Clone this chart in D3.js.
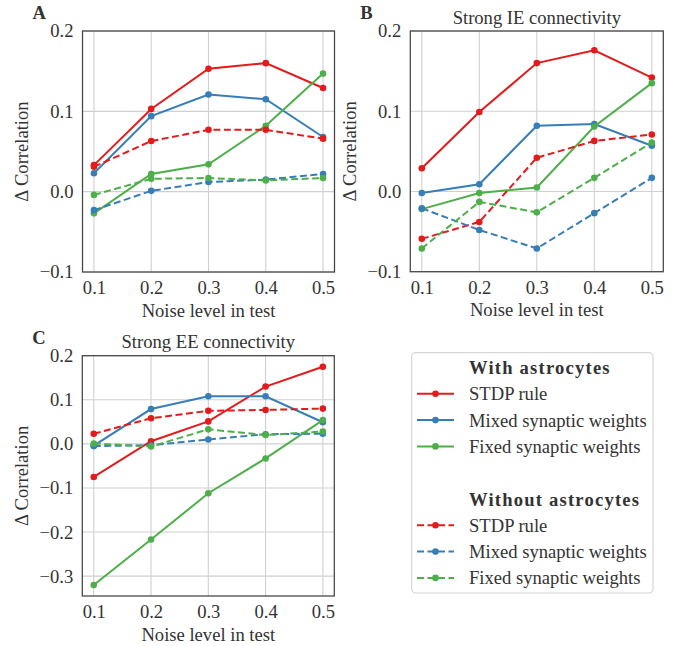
<!DOCTYPE html>
<html>
<head>
<meta charset="utf-8">
<script src="https://cdn.jsdelivr.net/npm/d3@7/dist/d3.min.js"></script>
<style>
  html, body { margin: 0; padding: 0; background: #fff; }
  svg { display: block; }
  text { font-family: "Liberation Serif", "DejaVu Serif", serif; fill: #333; }
</style>
</head>
<body>
<svg id="chart" width="674" height="646"></svg>
<script>
// ---------- data ----------
const noiseLevels = [0.1, 0.2, 0.3, 0.4, 0.5];
const xTicks = [0.1, 0.2, 0.3, 0.4, 0.5];
const yTicksAB = [-0.1, 0.0, 0.1, 0.2];
const yTicksC = [-0.3, -0.2, -0.1, 0.0, 0.1, 0.2];

const seriesNames = ["STDP rule", "Mixed synaptic weights", "Fixed synaptic weights"];
const seriesColors = ["#e41a1c", "#377eb8", "#4daf4a"];
const groupTitles = ["With astrocytes", "Without astrocytes"];

// Panel A (baseline)
const aStdpWith      = [0.033, 0.103, 0.153, 0.160, 0.129];
const aMixedWith     = [0.023, 0.094, 0.121, 0.115, 0.068];
const aFixedWith     = [-0.027, 0.022, 0.034, 0.082, 0.147];
const aStdpWithout   = [0.031, 0.063, 0.077, 0.077, 0.066];
const aMixedWithout  = [-0.023, 0.001, 0.012, 0.015, 0.022];
const aFixedWithout  = [-0.004, 0.016, 0.017, 0.014, 0.017];

// Panel B (strong IE connectivity)
const bStdpWith      = [0.029, 0.099, 0.160, 0.176, 0.142];
const bMixedWith     = [-0.002, 0.009, 0.082, 0.084, 0.057];
const bFixedWith     = [-0.022, -0.002, 0.005, 0.081, 0.135];
const bStdpWithout   = [-0.059, -0.038, 0.042, 0.063, 0.071];
const bMixedWithout  = [-0.021, -0.048, -0.071, -0.027, 0.017];
const bFixedWithout  = [-0.071, -0.013, -0.026, 0.017, 0.061];

// Panel C (strong EE connectivity)
const cStdpWith      = [-0.075, 0.006, 0.051, 0.130, 0.175];
const cMixedWith     = [-0.004, 0.079, 0.108, 0.108, 0.049];
const cFixedWith     = [-0.320, -0.217, -0.112, -0.033, 0.054];
const cStdpWithout   = [0.023, 0.058, 0.075, 0.077, 0.080];
const cMixedWithout  = [-0.005, -0.003, 0.010, 0.022, 0.023];
const cFixedWithout  = [0.001, -0.006, 0.033, 0.020, 0.028];

// ---------- layout ----------
const svg = d3.select("#chart");
svg.append("rect").attr("width", 674).attr("height", 646).attr("fill", "#fff");

const FS = 18.6;
const panels = [
  { letter: "A", title: null, box: [82.5, 334.5, 31, 272], ydom: [-0.1, 0.2], yticks: yTicksAB,
    withS: [aStdpWith, aMixedWith, aFixedWith], withoutS: [aStdpWithout, aMixedWithout, aFixedWithout] },
  { letter: "B", title: "Strong IE connectivity", box: [410.3, 663.3, 31, 271.7], ydom: [-0.1, 0.2], yticks: yTicksAB,
    withS: [bStdpWith, bMixedWith, bFixedWith], withoutS: [bStdpWithout, bMixedWithout, bFixedWithout] },
  { letter: "C", title: "Strong EE connectivity", box: [82.3, 334.3, 355.7, 596], ydom: [-0.345, 0.2], yticks: yTicksC,
    withS: [cStdpWith, cMixedWith, cFixedWith], withoutS: [cStdpWithout, cMixedWithout, cFixedWithout] }
];

const fmt = d3.format(".1f");

panels.forEach(p => {
  const [l, r, t, b] = p.box;
  const x = d3.scaleLinear().domain([0.08, 0.52]).range([l, r]);
  const y = d3.scaleLinear().domain(p.ydom).range([b, t]);
  const g = svg.append("g");

  // grid
  g.append("g").selectAll("line").data(xTicks).join("line")
    .attr("x1", d => x(d)).attr("x2", d => x(d)).attr("y1", t).attr("y2", b)
    .attr("stroke", "#d0d0d0").attr("stroke-width", 1.1);
  g.append("g").selectAll("line").data(p.yticks).join("line")
    .attr("x1", l).attr("x2", r).attr("y1", d => y(d)).attr("y2", d => y(d))
    .attr("stroke", "#d0d0d0").attr("stroke-width", 1.1);

  // axes (labels only, no tick marks)
  const xAxis = d3.axisBottom(x).tickValues(xTicks).tickFormat(fmt).tickSize(0).tickPadding(9);
  const yAxis = d3.axisLeft(y).tickValues(p.yticks).tickFormat(fmt).tickSize(0).tickPadding(9);
  const gx = g.append("g").attr("transform", `translate(0,${b})`).call(xAxis);
  const gy = g.append("g").attr("transform", `translate(${l},0)`).call(yAxis);
  [gx, gy].forEach(ax => {
    ax.select(".domain").remove();
    ax.selectAll("text").attr("font-size", FS).attr("font-family", "Liberation Serif").attr("fill", "#3a3a3a");
  });

  // lines
  const line = d3.line().x((d, i) => x(noiseLevels[i])).y(d => y(d));
  const drawGroup = (arrs, dashed) => {
    arrs.forEach((vals, si) => {
      g.append("path").datum(vals).attr("d", line)
        .attr("fill", "none").attr("stroke", seriesColors[si]).attr("stroke-width", 2)
        .attr("stroke-dasharray", dashed ? "7,3.5" : null);
      g.append("g").selectAll("circle").data(vals).join("circle")
        .attr("cx", (d, i) => x(noiseLevels[i])).attr("cy", d => y(d)).attr("r", 3.3)
        .attr("fill", seriesColors[si]);
    });
  };
  drawGroup(p.withS, false);
  drawGroup(p.withoutS, true);

  // frame
  g.append("rect").attr("x", l).attr("y", t).attr("width", r - l).attr("height", b - t)
    .attr("fill", "none").attr("stroke", "#444").attr("stroke-width", 1.25);

  // axis labels
  const cx = (l + r) / 2, cy = (t + b) / 2;
  g.append("text").attr("x", cx).attr("y", b + 38).attr("text-anchor", "middle")
    .attr("dominant-baseline", "central").attr("font-size", FS).text("Noise level in test");
  g.append("text").attr("transform", `translate(${l - 61},${cy}) rotate(-90)`)
    .attr("text-anchor", "middle").attr("dominant-baseline", "central").attr("font-size", FS)
    .text("\u0394 Correlation");

  // title
  if (p.title) {
    g.append("text").attr("x", cx).attr("y", t - 14).attr("text-anchor", "middle")
      .attr("dominant-baseline", "central").attr("font-size", FS).text(p.title);
  }
  // panel letter
  g.append("text").attr("x", l - 50).attr("y", t - 12).attr("font-size", FS).attr("font-weight", "bold")
    .attr("fill", "#222").text(p.letter);
});

// ---------- legend ----------
const lg = svg.append("g");
lg.append("rect").attr("x", 411.7).attr("y", 352.7).attr("width", 241.3).attr("height", 240.3)
  .attr("rx", 4).attr("fill", "#fff").attr("stroke", "#d5d5d5").attr("stroke-width", 1.2);

const rowY = d3.scaleLinear().domain([0, 1]).range([367.5, 393.8]);
let row = 0;
groupTitles.forEach((gt, gi) => {
  lg.append("text").attr("x", 469).attr("y", rowY(row)).attr("dominant-baseline", "central")
    .attr("font-size", FS).attr("font-weight", "bold").attr("letter-spacing", 1.2)
    .attr("fill", "#333").text(gt);
  row++;
  seriesNames.forEach((nm, si) => {
    const yy = rowY(row);
    lg.append("line").attr("x1", 417).attr("x2", 454).attr("y1", yy).attr("y2", yy)
      .attr("stroke", seriesColors[si]).attr("stroke-width", 2)
      .attr("stroke-dasharray", gi === 1 ? "7,3.5" : null);
    lg.append("circle").attr("cx", 435.5).attr("cy", yy).attr("r", 3.3).attr("fill", seriesColors[si]);
    lg.append("text").attr("x", 469).attr("y", yy).attr("dominant-baseline", "central")
      .attr("font-size", FS).text(nm);
    row++;
  });
  row += 1;
});
</script>
</body>
</html>
